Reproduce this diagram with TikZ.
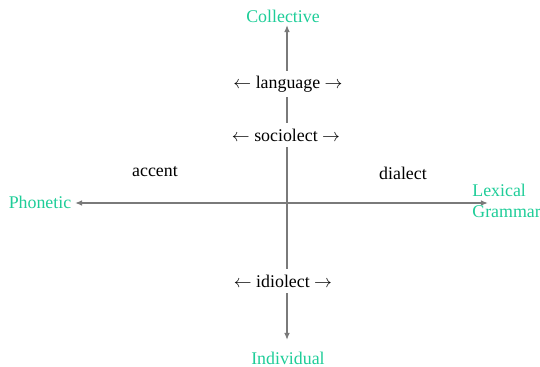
\documentclass[tikz,border=0pt]{standalone}
\usepackage{fontspec}
\setmainfont{Liberation Serif}
\usepackage{xcolor}
\usetikzlibrary{arrows.meta}
\definecolor{poletext}{RGB}{30,205,152}
\definecolor{axisgray}{RGB}{122,122,122}

\begin{document}
\begin{tikzpicture}[
  x=0.56pt, y=-0.56pt,
  every node/.style={font=\normalsize, inner sep=2pt},
  axis/.style={axisgray, line width=0.75pt, -{Latex[length=4pt,width=3.2pt]}},
  pole/.style={text=poletext},
  band/.style={fill=white, inner sep=3pt}
]
\useasboundingbox (0,0) rectangle (540,367);

% origin and axis ends
\coordinate (origin) at (287,203);
\coordinate (top) at (287,25);
\coordinate (bottom) at (287,340);
\coordinate (left) at (75,203);
\coordinate (right) at (488,203);

\draw[axis] (origin) -- (top);
\draw[axis] (origin) -- (bottom);
\draw[axis] (origin) -- (left);
\draw[axis] (origin) -- (right);

% poles
\node[pole] (collective) at (283,16) {Collective};
\node[pole] (individual) at (288,358) {Individual};
\node[pole] (phonetic) at (40,202) {Phonetic};
\node[pole, anchor=west, align=left, inner sep=0pt] (lexgram) at (472,201) {Lexical\\Grammar};

% varieties
\node[band] (language) at (288,84) {$\leftarrow$ language $\rightarrow$};
\node[band] (sociolect) at (286,135) {$\leftarrow$ sociolect $\rightarrow$};
\node[band] (idiolect) at (283,281) {$\leftarrow$ idiolect $\rightarrow$};
\node (accent) at (155,172) {accent};
\node (dialect) at (403,173) {dialect};
\end{tikzpicture}
\end{document}
